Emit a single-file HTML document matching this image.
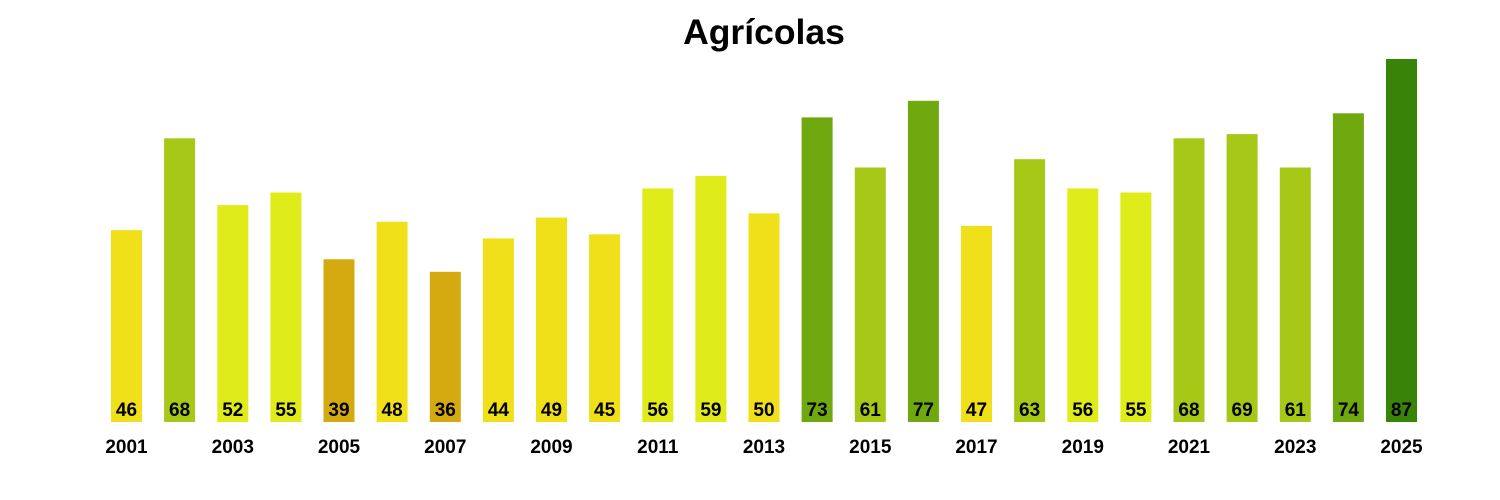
<!DOCTYPE html>
<html><head><meta charset="utf-8"><style>body{margin:0;background:#fff}svg{display:block}</style></head>
<body>
<svg width="1500" height="500" xmlns="http://www.w3.org/2000/svg" font-family="Liberation Sans, Arial, sans-serif" font-weight="bold">
<text x="764" y="44" font-size="35.5" text-anchor="middle">Agrícolas</text>
<g>
<rect x="111" y="230.1" width="31" height="191.9" fill="#f0e01a"/>
<rect x="164.1" y="138.3" width="31" height="283.7" fill="#a8c818"/>
<rect x="217.3" y="205.1" width="31" height="216.9" fill="#e0ec1a"/>
<rect x="270.4" y="192.5" width="31" height="229.5" fill="#e0ec1a"/>
<rect x="323.5" y="259.3" width="31" height="162.7" fill="#d5aa10"/>
<rect x="376.6" y="221.7" width="31" height="200.3" fill="#f0e01a"/>
<rect x="429.8" y="271.8" width="31" height="150.2" fill="#d5aa10"/>
<rect x="482.9" y="238.4" width="31" height="183.6" fill="#f0e01a"/>
<rect x="536" y="217.6" width="31" height="204.4" fill="#f0e01a"/>
<rect x="589.1" y="234.3" width="31" height="187.7" fill="#f0e01a"/>
<rect x="642.3" y="188.4" width="31" height="233.6" fill="#e0ec1a"/>
<rect x="695.4" y="175.9" width="31" height="246.1" fill="#e0ec1a"/>
<rect x="748.5" y="213.4" width="31" height="208.6" fill="#f0e01a"/>
<rect x="801.6" y="117.4" width="31" height="304.6" fill="#70a810"/>
<rect x="854.8" y="167.5" width="31" height="254.5" fill="#a8c818"/>
<rect x="907.9" y="100.8" width="31" height="321.2" fill="#70a810"/>
<rect x="961" y="225.9" width="31" height="196.1" fill="#f0e01a"/>
<rect x="1014.1" y="159.2" width="31" height="262.8" fill="#a8c818"/>
<rect x="1067.3" y="188.4" width="31" height="233.6" fill="#e0ec1a"/>
<rect x="1120.4" y="192.5" width="31" height="229.5" fill="#e0ec1a"/>
<rect x="1173.5" y="138.3" width="31" height="283.7" fill="#a8c818"/>
<rect x="1226.6" y="134.1" width="31" height="287.9" fill="#a8c818"/>
<rect x="1279.8" y="167.5" width="31" height="254.5" fill="#a8c818"/>
<rect x="1332.9" y="113.3" width="31" height="308.7" fill="#70a810"/>
<rect x="1386" y="59" width="31" height="363" fill="#388408"/>
</g>
<g font-size="19" text-anchor="middle">
<text x="126.5" y="416">46</text><text x="179.6" y="416">68</text><text x="232.8" y="416">52</text><text x="285.9" y="416">55</text><text x="339" y="416">39</text><text x="392.1" y="416">48</text><text x="445.3" y="416">36</text><text x="498.4" y="416">44</text><text x="551.5" y="416">49</text><text x="604.6" y="416">45</text><text x="657.8" y="416">56</text><text x="710.9" y="416">59</text><text x="764" y="416">50</text><text x="817.1" y="416">73</text><text x="870.3" y="416">61</text><text x="923.4" y="416">77</text><text x="976.5" y="416">47</text><text x="1029.6" y="416">63</text><text x="1082.8" y="416">56</text><text x="1135.9" y="416">55</text><text x="1189" y="416">68</text><text x="1242.1" y="416">69</text><text x="1295.3" y="416">61</text><text x="1348.4" y="416">74</text><text x="1401.5" y="416">87</text>
</g>
<g font-size="19" text-anchor="middle">
<text x="126.5" y="453">2001</text><text x="232.8" y="453">2003</text><text x="339" y="453">2005</text><text x="445.3" y="453">2007</text><text x="551.5" y="453">2009</text><text x="657.8" y="453">2011</text><text x="764" y="453">2013</text><text x="870.3" y="453">2015</text><text x="976.5" y="453">2017</text><text x="1082.8" y="453">2019</text><text x="1189" y="453">2021</text><text x="1295.3" y="453">2023</text><text x="1401.5" y="453">2025</text>
</g>
</svg>
</body></html>
